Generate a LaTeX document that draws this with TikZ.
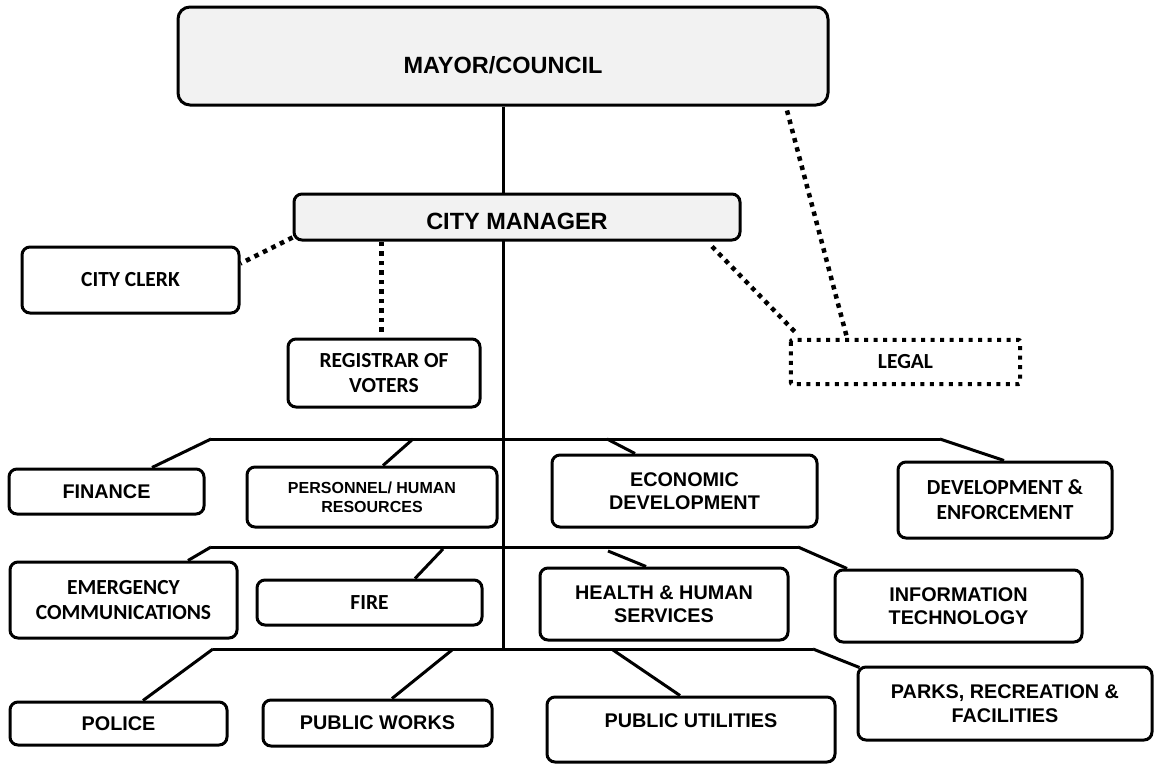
\documentclass[tikz,border=0pt]{standalone}
\usepackage{fontspec}
\newfontfamily\arialfont{Liberation Sans}
\newfontfamily\califont{Carlito}
\pgfdeclarelayer{links}
\pgfsetlayers{links,main}
\definecolor{headfill}{HTML}{F2F2F2}
\begin{document}
\begin{tikzpicture}[x=1pt,y=-1pt,
  unitbox/.style={draw, line width=3pt, rounded corners=8pt, fill=white,
    inner sep=0pt, align=center},
  size/.style 2 args={minimum width=#1pt, minimum height=#2pt},
  arbig/.style={font=\arialfont\bfseries\fontsize{23.5}{27}\selectfont},
  ar/.style={font=\arialfont\bfseries\fontsize{19.8}{23.5}\selectfont},
  arsmall/.style={font=\arialfont\bfseries\fontsize{16}{19}\selectfont},
  cal/.style={font=\califont\bfseries\fontsize{21.5}{25}\selectfont},
  link/.style={line width=3pt},
  dotlink/.style={line width=4.5pt, dash pattern=on 4.5pt off 5pt},
]
\useasboundingbox (0,0) rectangle (1159,763);

% top of the hierarchy
\node[unitbox, fill=headfill, rounded corners=12pt, size={650}{98}] (mayor) at (503,56) {};
\node[arbig] (mayortxt) at (503,65) {MAYOR/COUNCIL};
\node[unitbox, fill=headfill, size={446}{46}] (cm) at (517,217) {};
\node[arbig] (cmtxt) at (517,221) {CITY MANAGER};

% offices attached to the city manager
\node[unitbox, cal, size={217}{66}] (clerk) at (130.5,280) {CITY CLERK};
\node[unitbox, cal, size={192}{68}] (reg) at (384,373) {REGISTRAR OF\\VOTERS};
\node[cal, inner sep=0pt, size={229}{44}] (legal) at (905.5,362) {LEGAL};
\draw[line width=4pt, dash pattern=on 4pt off 5.5pt, rounded corners=2pt]
  (legal.north west) rectangle (legal.south east);

% first row of departments
\node[unitbox, ar, size={195}{45}] (fin) at (106.5,491.5) {FINANCE};
\node[unitbox, arsmall, size={250}{60}] (per) at (372,497) {PERSONNEL/ HUMAN\\RESOURCES};
\node[unitbox, ar, size={265}{72}] (eco) at (684.5,491) {ECONOMIC\\DEVELOPMENT};
\node[unitbox, cal, size={214}{76}] (dev) at (1005,500) {DEVELOPMENT \&\\ENFORCEMENT};

% second row
\node[unitbox, cal, size={227}{76}] (emc) at (123.5,600) {EMERGENCY\\COMMUNICATIONS};
\node[unitbox, cal, size={225}{45}] (fire) at (369.5,602.5) {FIRE};
\node[unitbox, ar, size={248}{72}] (hhs) at (664,604) {HEALTH \& HUMAN\\SERVICES};
\node[unitbox, ar, size={247}{72}] (it) at (958.5,606) {INFORMATION\\TECHNOLOGY};

% third row
\node[unitbox, ar, size={217}{43}] (pol) at (118.5,723.5) {POLICE};
\node[unitbox, ar, size={229}{46}] (pw) at (377.5,723) {PUBLIC WORKS};
\node[unitbox, size={288}{65}] (pu) at (691,729.5) {};
\node[ar] (putxt) at (691,721) {PUBLIC UTILITIES};
\node[unitbox, ar, size={294}{73}] (parks) at (1005,703.5) {PARKS, RECREATION \&\\FACILITIES};

% branch bars
\coordinate (r1L) at (211,439);
\coordinate (r1R) at (940,439);
\coordinate (r2L) at (211,547);
\coordinate (r2R) at (798,547);
\coordinate (r3L) at (213,649);
\coordinate (r3R) at (813,649);
\coordinate (spine) at (503,649);

\begin{pgfonlayer}{links}
  \draw[link] (mayor.south) -- (spine);
  \draw[link] (r1L) -- (r1R);
  \draw[link] (r2L) -- (r2R);
  \draw[link] (r3L) -- (r3R);
\end{pgfonlayer}

% drops from the bars to the departments
\draw[link] (r1L) -- ([xshift=45.5pt]fin.north);
\draw[link] (413,439) -- ([xshift=11pt]per.north);
\draw[link] (607,439) -- ([xshift=-49.5pt]eco.north);
\draw[link] (r1R) -- ([xshift=-1pt]dev.north);
\draw[link] (r2L) -- ([xshift=64.5pt]emc.north);
\draw[link] (443,549) -- ([xshift=45.5pt]fire.north);
\draw[link] (608,551) -- ([xshift=-18pt]hhs.north);
\draw[link] (r2R) -- ([xshift=-111.5pt]it.north);
\draw[link] (r3L) -- ([xshift=24.5pt]pol.north);
\draw[link] (452,650) -- ([xshift=14.5pt]pw.north);
\draw[link] (613,650) -- ([xshift=-11pt]pu.north);
\draw[link] (r3R) -- ([xshift=3pt,yshift=-2pt]parks.north west);

% dotted reporting lines
\draw[dotlink] ([xshift=284pt,yshift=-4pt]mayor.south) -- ([xshift=-58.5pt,yshift=2pt]legal.north);
\draw[dotlink] ([xshift=195pt,yshift=-5pt]cm.south) -- ([xshift=6pt,yshift=6pt]legal.north west);
\draw[dotlink] ([yshift=4pt]cm.south west) -- ([yshift=-18pt]clerk.north east);
\draw[dotlink] ([xshift=-2.5pt,yshift=6pt]reg.north) -- ([xshift=-2.5pt]reg.north |- cm.south);
\end{tikzpicture}
\end{document}
